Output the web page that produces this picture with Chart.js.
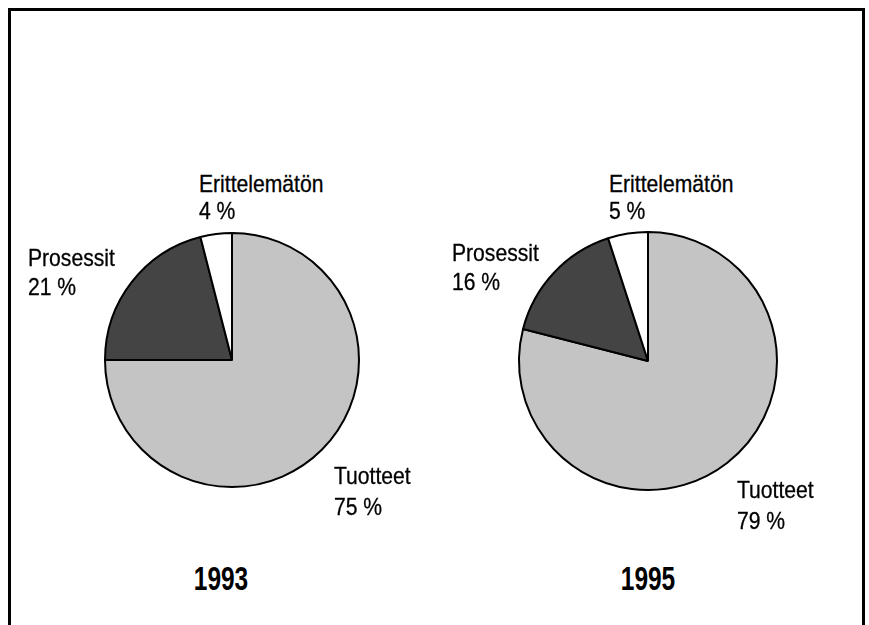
<!DOCTYPE html>
<html>
<head>
<meta charset="utf-8">
<script src="https://cdn.jsdelivr.net/npm/chart.js@4.4.0/dist/chart.umd.min.js"></script>
<style>
  html, body { margin: 0; padding: 0; background: #fff; overflow: hidden; }
  #page { position: relative; width: 869px; height: 625px; overflow: hidden; }
  #frame {
    position: absolute; left: 8px; top: 8px; width: 851px; height: 700px;
    border: 3px solid #000; box-sizing: content-box;
  }
  canvas { position: absolute; }
  .lbl {
    position: absolute; font-family: 'Liberation Sans', Arial, sans-serif;
    font-size: 24px; line-height: 24px; color: #000; white-space: nowrap;
    transform: scaleX(0.88); transform-origin: left top;
    -webkit-text-stroke: 0.3px #000;
  }
  .year {
    position: absolute; font-family: 'Liberation Sans', Arial, sans-serif;
    font-weight: bold; font-size: 34px; line-height: 34px; color: #000;
    width: 120px; text-align: center; transform: scaleX(0.72);
  }
</style>
</head>
<body>
<div id="page">
  <div id="frame"></div>
  <canvas id="pie1993" width="300" height="300" style="left:82px; top:210px"></canvas>
  <canvas id="pie1995" width="300" height="300" style="left:498px; top:211px"></canvas>
</div>
<script>
const categories = ['Tuotteet', 'Prosessit', 'Erittelemätön'];
const values1993 = [75, 21, 4];
const values1995 = [79, 16, 5];
const years = ['1993', '1995'];
const sliceColors = ['#c4c4c4', '#444444', '#ffffff'];

// label spots (left, top of first line, line gap) per pie and category
const labelSpots = [
  [[334, 464, 31], [28, 246, 29], [199, 172, 27]],
  [[737, 478, 31], [452, 241, 29], [609, 172, 27]]
];
const yearSpots = [[161, 561], [588, 561]];

function drawPie(id, values, radius) {
  const ctx = document.getElementById(id).getContext('2d');
  new Chart(ctx, {
    type: 'pie',
    data: {
      labels: categories,
      datasets: [{
        data: values,
        backgroundColor: sliceColors,
        borderColor: '#000',
        borderWidth: 2
      }]
    },
    options: {
      responsive: false,
      animation: false,
      radius: radius,
      layout: { padding: 0 },
      plugins: { legend: { display: false }, tooltip: { enabled: false } }
    }
  });
}

function addLabels(pieIndex, values) {
  const page = document.getElementById('page');
  categories.forEach((cat, i) => {
    const [x, y, gap] = labelSpots[pieIndex][i];
    const name = document.createElement('div');
    name.className = 'lbl';
    name.style.left = x + 'px';
    name.style.top = y + 'px';
    name.textContent = cat;
    page.appendChild(name);
    const pct = document.createElement('div');
    pct.className = 'lbl';
    pct.style.left = x + 'px';
    pct.style.top = (y + gap) + 'px';
    pct.textContent = values[i] + ' %';
    page.appendChild(pct);
  });
  const yr = document.createElement('div');
  yr.className = 'year';
  yr.style.left = yearSpots[pieIndex][0] + 'px';
  yr.style.top = yearSpots[pieIndex][1] + 'px';
  yr.textContent = years[pieIndex];
  page.appendChild(yr);
}

drawPie('pie1993', values1993, 127);
drawPie('pie1995', values1995, 129);
addLabels(0, values1993);
addLabels(1, values1995);
</script>
</body>
</html>
